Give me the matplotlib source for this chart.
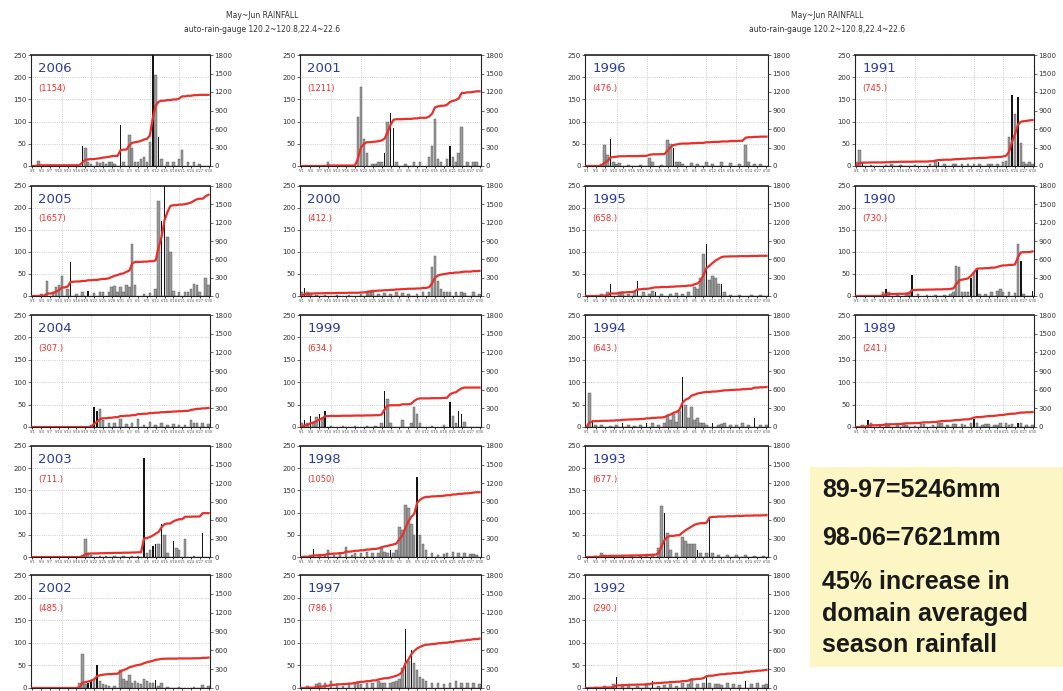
import numpy as np
import matplotlib
matplotlib.use("Agg")
import matplotlib.pyplot as plt
from matplotlib.patches import Rectangle
from matplotlib.ticker import MultipleLocator

# season 5/1 .. 6/30, daily domain-averaged rainfall (mm), day index -> value
ndays = 61
dates = [f"{m}/{d}" for m, n in ((5, 31), (6, 30)) for d in range(1, n + 1)]

grey_2006 = {2: 12, 18: 40, 19: 10, 20: 5, 22: 8, 23: 6, 24: 10, 25: 5, 26: 8, 27: 10, 28: 5, 31: 10,
             33: 70, 34: 40, 35: 10, 36: 8, 37: 15, 38: 20, 39: 10, 40: 55, 42: 205, 44: 15, 46: 10,
             48: 10, 50: 15, 51: 35, 53: 10, 55: 10, 57: 5}
dark_2006 = {17: 45, 30: 92, 41: 280, 43: 65}

grey_2005 = {3: 5, 5: 35, 7: 10, 8: 20, 9: 25, 10: 45, 12: 15, 15: 5, 17: 8, 21: 6, 23: 8, 24: 8,
             26: 10, 27: 20, 28: 22, 29: 10, 30: 20, 31: 8, 32: 25, 33: 20, 34: 118, 35: 25, 38: 5,
             40: 6, 42: 15, 43: 215, 46: 135, 47: 100, 48: 12, 50: 10, 52: 8, 53: 10, 54: 15, 55: 28,
             56: 25, 57: 10, 59: 40, 60: 25}
dark_2005 = {13: 78, 19: 12, 44: 170, 45: 270}

grey_2004 = {20: 5, 23: 40, 24: 15, 26: 8, 28: 10, 30: 18, 32: 6, 34: 8, 36: 18, 38: 5, 40: 12,
             42: 5, 44: 8, 46: 5, 48: 6, 50: 5, 52: 5, 54: 15, 55: 8, 56: 10, 58: 8, 60: 7}
dark_2004 = {21: 45, 22: 35}

grey_2003 = {17: 5, 18: 40, 19: 8, 20: 5, 23: 3, 25: 3, 28: 3, 31: 3, 34: 3, 36: 3, 39: 10, 40: 15,
             43: 30, 45: 50, 46: 10, 49: 20, 50: 15, 52: 40, 55: 3}
dark_2003 = {38: 222, 41: 25, 42: 30, 44: 75, 48: 35, 58: 55}

grey_2002 = {16: 10, 17: 75, 18: 8, 21: 20, 23: 15, 24: 8, 25: 6, 26: 5, 28: 5, 30: 40, 31: 20,
             32: 15, 33: 28, 34: 12, 35: 15, 36: 10, 37: 8, 38: 20, 39: 15, 40: 12, 41: 10, 43: 5,
             44: 10, 46: 3, 50: 3, 55: 3, 58: 6, 60: 5}
dark_2002 = {19: 10, 20: 15, 22: 50, 42: 18}

grey_2001 = {9: 8, 19: 110, 20: 178, 21: 60, 22: 30, 24: 5, 25: 5, 26: 8, 27: 10, 29: 100, 32: 10,
             35: 5, 38: 8, 40: 10, 43: 20, 44: 45, 45: 105, 46: 15, 47: 10, 49: 15, 51: 20, 52: 10,
             53: 30, 54: 88, 56: 10, 58: 8, 59: 8}
dark_2001 = {28: 30, 30: 120, 31: 85, 50: 45}

grey_2000 = {0: 10, 2: 8, 3: 5, 5: 3, 8: 3, 12: 3, 16: 3, 20: 5, 22: 10, 23: 8, 24: 8, 26: 5, 28: 6,
             30: 5, 32: 8, 34: 6, 36: 5, 39: 4, 41: 10, 43: 10, 44: 65, 45: 92, 46: 35, 47: 15,
             48: 8, 49: 8, 50: 10, 52: 8, 54: 9, 55: 6, 58: 8, 60: 5}
dark_2000 = {1: 18}

grey_1999 = {0: 8, 2: 10, 4: 12, 5: 22, 7: 20, 10: 3, 14: 3, 18: 3, 22: 3, 25: 3, 27: 10, 29: 62,
             30: 8, 34: 15, 37: 10, 38: 45, 39: 30, 40: 10, 44: 3, 48: 5, 51: 25, 52: 10, 55: 11}
dark_1999 = {1: 15, 3: 25, 6: 28, 8: 35, 28: 80, 50: 55, 53: 35, 54: 30}

grey_1998 = {1: 3, 3: 5, 6: 5, 8: 5, 9: 15, 11: 5, 13: 8, 15: 22, 17: 5, 18: 10, 20: 8, 22: 12,
             24: 10, 26: 8, 27: 20, 28: 12, 29: 8, 31: 10, 32: 15, 33: 68, 34: 60, 35: 118, 36: 110,
             37: 75, 38: 50, 40: 50, 41: 30, 42: 15, 44: 8, 46: 5, 48: 6, 49: 8, 51: 12, 53: 10,
             55: 8, 57: 6, 58: 7, 59: 5}
dark_1998 = {4: 18, 30: 15, 39: 180}

grey_1997 = {2: 5, 5: 8, 6: 10, 8: 12, 10: 15, 12: 8, 14: 5, 16: 8, 18: 10, 19: 10, 20: 8, 22: 10,
             24: 12, 26: 15, 27: 10, 28: 10, 30: 12, 31: 13, 32: 15, 33: 20, 34: 45, 36: 60, 38: 55,
             39: 40, 40: 25, 41: 20, 42: 15, 44: 10, 46: 12, 48: 8, 50: 10, 52: 15, 54: 10, 56: 12,
             58: 10, 60: 8}
dark_1997 = {35: 130, 37: 85}

grey_1996 = {5: 5, 6: 48, 7: 25, 9: 8, 10: 5, 11: 7, 14: 3, 18: 3, 21: 18, 22: 8, 25: 3, 27: 58,
             28: 50, 30: 8, 31: 10, 32: 5, 35: 6, 37: 5, 40: 10, 42: 5, 45: 8, 48: 6, 51: 5, 53: 48,
             54: 10, 56: 5, 58: 4}
dark_1996 = {8: 60, 29: 40}

grey_1995 = {5: 5, 7: 8, 11: 10, 12: 8, 14: 5, 16: 10, 19: 8, 21: 5, 22: 12, 25: 5, 28: 5, 30: 6,
             32: 5, 34: 8, 36: 20, 37: 15, 38: 40, 39: 95, 41: 36, 42: 45, 43: 40, 44: 28, 46: 10,
             48: 3, 51: 3, 55: 3, 58: 3}
dark_1995 = {8: 28, 17: 35, 23: 8, 40: 118, 45: 28}

grey_1994 = {1: 75, 3: 5, 5: 5, 8: 3, 10: 5, 14: 5, 16: 3, 18: 5, 22: 8, 24: 5, 26: 8, 27: 25,
             28: 15, 29: 30, 30: 12, 31: 35, 33: 50, 34: 20, 35: 45, 36: 15, 37: 20, 38: 8, 39: 10,
             40: 5, 44: 5, 45: 7, 46: 8, 48: 5, 50: 5, 52: 8, 54: 5, 58: 5, 60: 5}
dark_1994 = {2: 15, 12: 8, 20: 10, 32: 112, 42: 8, 56: 20}

grey_1993 = {3: 3, 5: 8, 6: 5, 8: 3, 12: 3, 15: 3, 18: 3, 20: 5, 22: 5, 24: 20, 25: 115, 27: 55,
             28: 15, 30: 10, 32: 45, 33: 35, 34: 30, 35: 30, 36: 30, 38: 10, 40: 8, 42: 10, 44: 5,
             47: 5, 50: 5, 53: 5, 56: 3, 59: 3}
dark_1993 = {26: 100, 37: 15, 41: 85}

grey_1992 = {3: 3, 6: 5, 9: 8, 12: 5, 14: 5, 17: 4, 20: 6, 24: 5, 26: 6, 28: 8, 30: 5, 32: 10,
             34: 8, 35: 20, 37: 8, 39: 12, 41: 10, 43: 8, 44: 9, 45: 6, 47: 10, 49: 8, 51: 6, 55: 8,
             57: 10, 59: 6, 60: 8}
dark_1992 = {10: 25, 22: 15, 40: 28, 53: 15}

grey_1991 = {0: 10, 1: 35, 5: 3, 10: 3, 12: 5, 15: 3, 20: 3, 25: 5, 27: 12, 30: 5, 33: 5, 34: 5,
             36: 5, 38: 5, 40: 5, 42: 5, 45: 5, 46: 5, 48: 5, 50: 8, 51: 12, 52: 65, 54: 118, 56: 52,
             57: 10, 58: 5, 59: 8, 60: 5}
dark_1991 = {2: 10, 28: 8, 53: 160, 55: 155}

grey_1990 = {9: 10, 11: 8, 14: 3, 17: 5, 18: 8, 21: 5, 24: 3, 27: 3, 30: 3, 32: 5, 33: 8, 34: 68,
             35: 65, 36: 10, 37: 10, 38: 10, 40: 55, 42: 5, 44: 5, 46: 8, 48: 12, 49: 15, 50: 10,
             52: 8, 54: 6, 55: 118, 57: 5}
dark_1990 = {10: 15, 19: 48, 39: 42, 41: 62, 56: 80, 60: 12}

grey_1989 = {2: 5, 5: 8, 8: 3, 10: 8, 11: 5, 14: 4, 16: 7, 17: 5, 20: 3, 22: 6, 23: 6, 26: 5, 28: 8,
             29: 8, 31: 4, 33: 6, 34: 6, 36: 6, 37: 5, 39: 10, 41: 8, 43: 5, 44: 6, 45: 6, 47: 4,
             48: 5, 49: 8, 51: 10, 52: 5, 53: 6, 56: 8, 58: 5, 60: 4}
dark_1989 = {4: 15, 40: 18, 55: 10}

# season totals printed in each panel
totals = {2006: 1154, 2005: 1657, 2004: 307, 2003: 711, 2002: 485,
          2001: 1211, 2000: 412, 1999: 634, 1998: 1050, 1997: 786,
          1996: 476, 1995: 658, 1994: 643, 1993: 677, 1992: 290,
          1991: 745, 1990: 730, 1989: 241}

grey_rain = {2006: grey_2006, 2005: grey_2005, 2004: grey_2004, 2003: grey_2003, 2002: grey_2002,
             2001: grey_2001, 2000: grey_2000, 1999: grey_1999, 1998: grey_1998, 1997: grey_1997,
             1996: grey_1996, 1995: grey_1995, 1994: grey_1994, 1993: grey_1993, 1992: grey_1992,
             1991: grey_1991, 1990: grey_1990, 1989: grey_1989}
dark_rain = {2006: dark_2006, 2005: dark_2005, 2004: dark_2004, 2003: dark_2003, 2002: dark_2002,
             2001: dark_2001, 2000: dark_2000, 1999: dark_1999, 1998: dark_1998, 1997: dark_1997,
             1996: dark_1996, 1995: dark_1995, 1994: dark_1994, 1993: dark_1993, 1992: dark_1992,
             1991: dark_1991, 1990: dark_1990, 1989: dark_1989}

columns = [[2006, 2005, 2004, 2003, 2002],
           [2001, 2000, 1999, 1998, 1997],
           [1996, 1995, 1994, 1993, 1992],
           [1991, 1990, 1989]]

summary_lines = ["89-97=5246mm", "98-06=7621mm", "45% increase in", "domain averaged", "season rainfall"]
title_lines = ["May~Jun RAINFALL", "auto-rain-gauge 120.2~120.8,22.4~22.6"]

W, H = 1063, 691
col_px = [(31, 210), (300, 481), (585, 768), (855, 1034)]
row_px = [(55, 166), (186, 296), (315, 427), (446, 557), (575, 688)]

fig = plt.figure(figsize=(W / 100, H / 100), dpi=100)


def to_array(d):
    a = np.zeros(ndays)
    for k, v in d.items():
        a[k] = v
    return a


def draw_panel(rect, year, show_dates=True):
    ax = fig.add_axes(rect)
    days = np.arange(ndays)
    grey = to_array(grey_rain[year])
    dark = to_array(dark_rain[year])
    ax.bar(days, grey, width=0.85, color="#9a9a9a", edgecolor="#505050", linewidth=0.3, zorder=2)
    ax.bar(days, dark, width=0.5, color="#151515", linewidth=0, zorder=3)
    ax.set_xlim(-0.5, ndays - 0.5)
    ax.set_ylim(0, 250)
    ax.set_yticks(range(0, 251, 50))
    ax.set_xticks(range(0, ndays, 3))
    if show_dates:
        ax.set_xticklabels([dates[i] for i in range(0, ndays, 3)], fontsize=2.6, color="#555555")
    else:
        # the bottom row's date labels fall below the picture edge
        ax.set_xticklabels([])
    ax.xaxis.set_minor_locator(MultipleLocator(10))
    ax.grid(which="minor", axis="x", linestyle=":", color="#b0b0b0", linewidth=0.5)
    ax.grid(which="major", axis="y", linestyle=":", color="#b0b0b0", linewidth=0.5)
    ax.set_axisbelow(True)
    ax.tick_params(axis="x", which="major", length=1.5, pad=1, width=0.5)
    ax.tick_params(axis="x", which="minor", length=0)
    ax.tick_params(axis="y", length=2, pad=1, labelsize=5, width=0.5, colors="#333333")
    for s in ax.spines.values():
        s.set_linewidth(0.8)
        s.set_color("#222222")
    ax.spines["top"].set_linewidth(1.2)

    ax2 = ax.twinx()
    ax2.plot(days, np.cumsum(grey + dark), color="#e8302a", linewidth=1.6, zorder=5)
    ax2.set_ylim(0, 1800)
    ax2.set_yticks(range(0, 1801, 300))
    ax2.tick_params(axis="y", length=2, pad=1, labelsize=5, width=0.5, colors="#333333")
    for s in ax2.spines.values():
        s.set_visible(False)

    ax.text(0.04, 0.88, str(year), transform=ax.transAxes, fontsize=9.5, color="#2c3c9c",
            ha="left", va="center", zorder=6)
    t = totals[year]
    lab = f"({t})" if t >= 1000 else f"({t}.)"
    ax.text(0.04, 0.70, lab, transform=ax.transAxes, fontsize=6, color="#e8302a",
            ha="left", va="center", zorder=6)


for c, col in enumerate(columns):
    x0, x1 = col_px[c]
    for r, year in enumerate(col):
        y0, y1 = row_px[r]
        draw_panel([x0 / W, 1 - y1 / H, (x1 - x0) / W, (y1 - y0) / H], year,
                   show_dates=(r < len(row_px) - 1))

# headers
for cx in (262, 827):
    fig.text(cx / W, 1 - 15 / H, title_lines[0], ha="center", va="center", fontsize=5.5, color="#333333")
    fig.text(cx / W, 1 - 30 / H, title_lines[1], ha="center", va="center", fontsize=5.5, color="#333333")

# yellow summary box
fig.patches.append(Rectangle((810 / W, 1 - 667 / H), (W - 810) / W, 200 / H,
                             transform=fig.transFigure, facecolor="#fcf6c4", edgecolor="none", zorder=0))
for txt, yy in zip(summary_lines, (490, 538, 582, 614, 645)):
    fig.text(822 / W, 1 - yy / H, txt, ha="left", va="center", fontsize=18, fontweight="bold",
             family="Liberation Sans", color="#1a1a1a")

fig.savefig("out.png", dpi=100)
